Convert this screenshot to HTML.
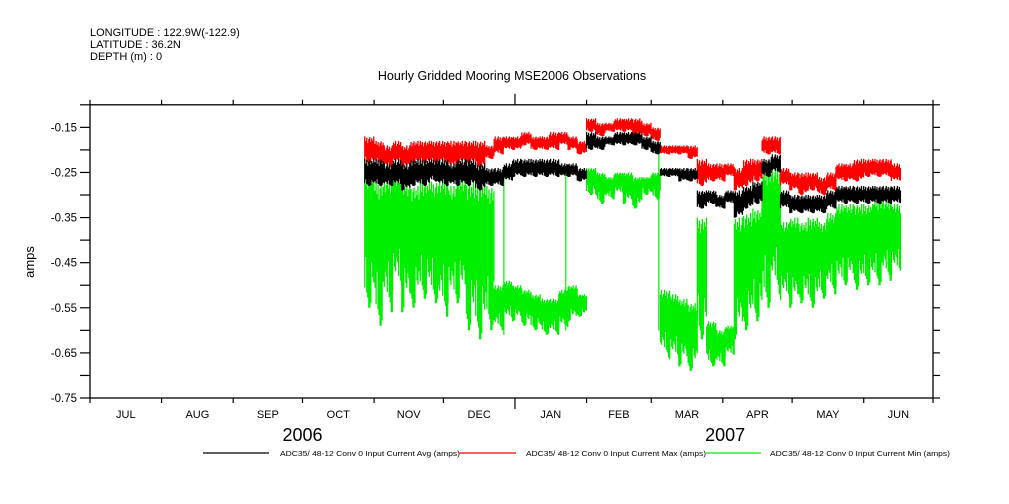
<!DOCTYPE html>
<html><head><meta charset="utf-8">
<style>
body{margin:0;background:#fff;width:1009px;height:504px;overflow:hidden;font-family:"Liberation Sans",sans-serif;}
svg{display:block}
text{font-family:"Liberation Sans",sans-serif;fill:#000}
</style></head>
<body>
<svg id="chart" width="1009" height="504" viewBox="0 0 1009 504" xmlns="http://www.w3.org/2000/svg">
<g font-size="11">
<text x="90" y="36">LONGITUDE : 122.9W(-122.9)</text>
<text x="90" y="48">LATITUDE : 36.2N</text>
<text x="90" y="60">DEPTH (m) : 0</text>
</g>
<text x="512" y="80" text-anchor="middle" font-size="12.5">Hourly Gridded Mooring MSE2006 Observations</text>
<text transform="translate(34,262) rotate(-90)" text-anchor="middle" font-size="13">amps</text>
<g id="plot"></g>
<g id="axes"></g>
<g id="legend"></g>
</svg>
<script>
// ---- data (4-day bins starting day 119 after Jul 1 2006) ----
const binStartDay = 119;
const binDays = 4;
const avgHi = [-0.22,-0.22,-0.23,-0.22,-0.23,-0.22,-0.22,-0.22,-0.22,-0.23,-0.22,-0.22,-0.23,-0.24,-0.24,-0.23,-0.22,-0.22,-0.22,-0.22,-0.22,-0.23,-0.23,-0.24,-0.16,-0.17,-0.17,-0.16,-0.16,-0.16,-0.17,-0.18,-0.24,-0.24,-0.24,-0.24,-0.29,-0.29,-0.30,-0.29,-0.29,-0.28,-0.27,-0.22,-0.21,-0.29,-0.30,-0.30,-0.30,-0.30,-0.29,-0.28,-0.28,-0.28,-0.28,-0.28,-0.28,-0.28];
const avgLo = [-0.28,-0.28,-0.28,-0.28,-0.29,-0.28,-0.28,-0.27,-0.28,-0.28,-0.28,-0.28,-0.29,-0.28,-0.28,-0.27,-0.26,-0.26,-0.26,-0.26,-0.26,-0.26,-0.26,-0.27,-0.20,-0.20,-0.19,-0.19,-0.19,-0.19,-0.20,-0.21,-0.26,-0.26,-0.27,-0.27,-0.33,-0.32,-0.33,-0.32,-0.35,-0.33,-0.32,-0.26,-0.25,-0.33,-0.34,-0.34,-0.34,-0.34,-0.33,-0.32,-0.32,-0.32,-0.32,-0.32,-0.32,-0.32];
const maxHi = [-0.17,-0.18,-0.19,-0.18,-0.19,-0.18,-0.18,-0.18,-0.18,-0.18,-0.18,-0.18,-0.18,-0.19,-0.17,-0.17,-0.17,-0.16,-0.17,-0.17,-0.16,-0.16,-0.17,-0.18,-0.13,-0.14,-0.14,-0.13,-0.13,-0.13,-0.14,-0.15,-0.19,-0.19,-0.19,-0.19,-0.22,-0.23,-0.23,-0.23,-0.24,-0.22,-0.22,-0.17,-0.17,-0.24,-0.25,-0.25,-0.25,-0.26,-0.25,-0.23,-0.23,-0.22,-0.22,-0.22,-0.22,-0.23];
const maxLo = [-0.23,-0.23,-0.24,-0.23,-0.24,-0.23,-0.23,-0.23,-0.23,-0.24,-0.23,-0.23,-0.24,-0.22,-0.21,-0.20,-0.20,-0.19,-0.20,-0.20,-0.20,-0.19,-0.20,-0.21,-0.16,-0.17,-0.16,-0.16,-0.16,-0.17,-0.17,-0.18,-0.21,-0.21,-0.21,-0.22,-0.28,-0.27,-0.27,-0.26,-0.29,-0.28,-0.27,-0.21,-0.21,-0.28,-0.29,-0.30,-0.29,-0.30,-0.29,-0.27,-0.27,-0.27,-0.26,-0.26,-0.26,-0.27];
const minHi = [-0.25,-0.27,-0.26,-0.25,-0.27,-0.28,-0.27,-0.27,-0.26,-0.28,-0.26,-0.27,-0.27,-0.28,-0.50,-0.49,-0.50,-0.51,-0.52,-0.53,-0.53,-0.51,-0.50,-0.52,-0.24,-0.25,-0.26,-0.25,-0.25,-0.26,-0.26,-0.25,-0.51,-0.52,-0.53,-0.54,-0.35,-0.58,-0.60,-0.59,-0.35,-0.34,-0.33,-0.24,-0.24,-0.36,-0.35,-0.36,-0.35,-0.36,-0.34,-0.32,-0.32,-0.32,-0.32,-0.31,-0.31,-0.32];
const minLo = [-0.55,-0.59,-0.56,-0.52,-0.56,-0.55,-0.53,-0.54,-0.57,-0.55,-0.54,-0.60,-0.62,-0.60,-0.60,-0.58,-0.58,-0.59,-0.60,-0.61,-0.61,-0.60,-0.58,-0.57,-0.30,-0.32,-0.31,-0.30,-0.32,-0.33,-0.30,-0.31,-0.66,-0.67,-0.68,-0.69,-0.62,-0.68,-0.68,-0.66,-0.62,-0.60,-0.58,-0.55,-0.52,-0.54,-0.55,-0.54,-0.55,-0.53,-0.52,-0.51,-0.50,-0.51,-0.50,-0.50,-0.49,-0.48];
const spikeDays = [119.0, 179.2, 206.0, 246.3];
const spikeTop = [-0.17, -0.24, -0.25, -0.21];
const spikeBot = [-0.36, -0.61, -0.60, -0.60];
const monthLabels = ["JUL","AUG","SEP","OCT","NOV","DEC","JAN","FEB","MAR","APR","MAY","JUN"];
const monthLengths = [31,31,30,31,30,31,31,28,31,30,31,30];
const yTickLabels = ["-0.15","-0.25","-0.35","-0.45","-0.55","-0.65","-0.75"];
const yearLabels = ["2006","2007"];

// ---- scales ----
const X0=90, X1=933, Y0=104.8, Y1=398;
const yMin=-0.75, yMax=-0.10;
function xs(day){return X0+(X1-X0)*day/365;}
function ys(v){return Y1-(Y1-Y0)*(v-yMin)/(yMax-yMin);}
const NS="http://www.w3.org/2000/svg";
function mk(tag,attrs,parent){const e=document.createElementNS(NS,tag);for(const k in attrs)e.setAttribute(k,attrs[k]);parent.appendChild(e);return e;}
const plot=document.getElementById('plot'), axes=document.getElementById('axes'), legend=document.getElementById('legend');

const jitA=[0,0.35,0.1,0.5,0.2,0.05,0.4,0.15,0.3,0.0,0.45,0.25];
const jitB=[0.2,0,0.4,0.1,0.3,0.5,0.05,0.35,0.0,0.25,0.15,0.45];

function drawSeries(hi,lo,color,name,jscaleTop,jscaleBot){
  const g=mk('g',{},plot);
  
  
  let d='';
  let idx=0;
  for(let i=0;i<hi.length;i++){
    const xa=xs(binStartDay+i*binDays), xb=xs(binStartDay+(i+1)*binDays);
    for(let x=xa;x<xb-0.2;x+=1){
      const yt=ys(hi[i]), yb=ys(lo[i]);
      const h=yb-yt;
      const t=yt+h*jitA[idx%12]*jscaleTop;
      const b=yb-h*jitB[(idx*5)%12]*jscaleBot;
      d+='M'+x.toFixed(1)+' '+t.toFixed(1)+'V'+b.toFixed(1);
      idx++;
    }
  }
  const p=mk('path',{d:d,stroke:color,'stroke-width':1.3,fill:'none'},g);
  
  
}
drawSeries(minHi,minLo,'#00ee00','series-min',0.25,0.75);
for(let i=0;i<spikeDays.length;i++){
  const l=mk('line',{x1:xs(spikeDays[i]),x2:xs(spikeDays[i]),y1:ys(spikeTop[i]),y2:ys(spikeBot[i]),stroke:'#00ee00','stroke-width':1.2},plot);
  
  
}
drawSeries(maxHi,maxLo,'#ff0000','series-max',0.5,0.5);
drawSeries(avgHi,avgLo,'#000000','series-avg',0.5,0.5);

// ---- axes ----
mk('rect',{x:X0,y:Y0,width:X1-X0,height:Y1-Y0,fill:'none',stroke:'#000','stroke-width':1.3},axes);
for(let k=0;k<=13;k++){
  const v=yMin+k*0.05; const y=ys(v);
  mk('line',{x1:X0-10,x2:X0,y1:y,y2:y,stroke:'#000','stroke-width':1.2},axes);
  mk('line',{x1:X1,x2:X1+7,y1:y,y2:y,stroke:'#000','stroke-width':1.2},axes);
}
for(let i=0;i<yTickLabels.length;i++){
  const v=parseFloat(yTickLabels[i]);
  const t=mk('text',{x:77,y:ys(v)+4,'text-anchor':'end','font-size':11.5},axes);
  t.textContent=yTickLabels[i];
  
  
}
let day=0;
for(let m=0;m<=12;m++){
  const x=xs(day);
  const isJan=(m===6);
  mk('line',{x1:x,x2:x,y1:Y0,y2:Y0-(isJan?11:5),stroke:'#000','stroke-width':1.2},axes);
  mk('line',{x1:x,x2:x,y1:Y1,y2:Y1+(isJan?11:5),stroke:'#000','stroke-width':1.2},axes);
  if(m<12){
    const t=mk('text',{x:xs(day+monthLengths[m]/2),y:418,'text-anchor':'middle','font-size':11},axes);
    t.textContent=monthLabels[m];
    
    
    day+=monthLengths[m];
  }
}
const yrX=[xs(92),xs(275)];
for(let i=0;i<2;i++){
  const t=mk('text',{x:yrX[i],y:441,'text-anchor':'middle','font-size':18},axes);
  t.textContent=yearLabels[i];
  
  
}
// ---- legend ----
const legItems=[["#000000",203,269,280,"ADC35/ 48-12 Conv 0 Input Current Avg (amps)","legend-avg"],
 ["#ff0000",459,516,526,"ADC35/ 48-12 Conv 0 Input Current Max (amps)","legend-max"],
 ["#00ee00",706,761,770,"ADC35/ 48-12 Conv 0 Input Current Min (amps)","legend-min"]];
for(const it of legItems){
  const g=mk('g',{},legend);
  
  
  mk('line',{x1:it[1],x2:it[2],y1:453,y2:453,stroke:it[0],'stroke-width':1.3},g);
  const t=mk('text',{x:it[3],y:456,'font-size':7.5,textLength:180,lengthAdjust:'spacingAndGlyphs'},g);
  t.textContent=it[4];
}
</script>
</body></html>
